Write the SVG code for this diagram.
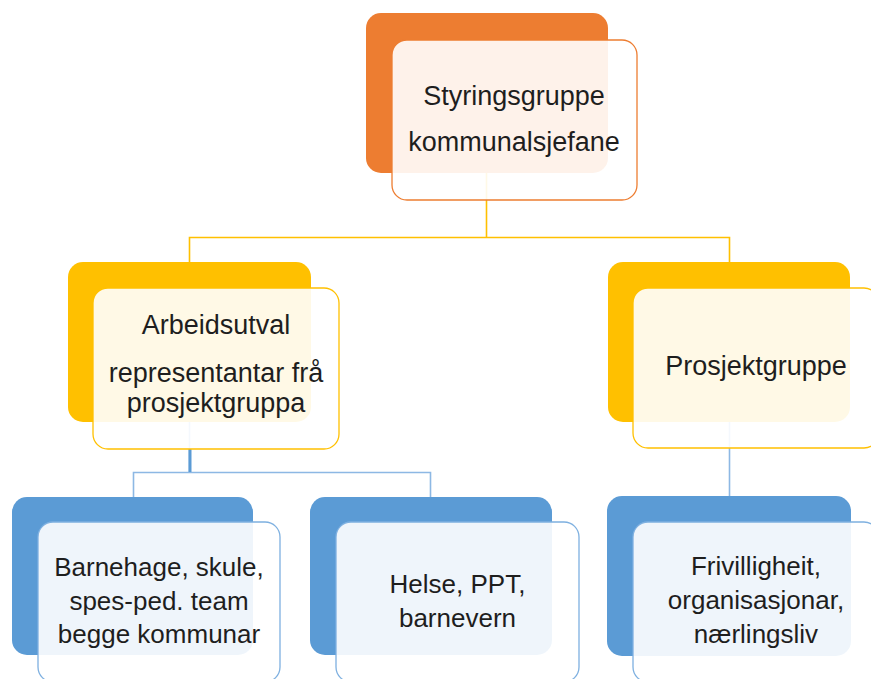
<svg xmlns="http://www.w3.org/2000/svg" width="871" height="679" viewBox="0 0 871 679">
  <style>
    .back { stroke: none; }
    .front { fill: #ffffff; fill-opacity: 0.9; stroke-width: 1.3; }
    .orange .back { fill: #ED7D31; }
    .orange .front { stroke: #ED7D31; }
    .gold .back { fill: #FFC000; }
    .gold .front { stroke: #FFC000; }
    .blue .back { fill: #5B9BD5; }
    .blue .front { stroke: #7EB0E0; }
    .label { font-family: "Liberation Sans", Arial, sans-serif; font-size: 27px; fill: #1e1e1e; text-anchor: middle; }
    .small { font-size: 26px; }
    .link-gold { fill: none; stroke: #FFC000; stroke-width: 1.6; }
    .link-blue { fill: none; stroke: #8DB8E4; stroke-width: 1.6; }
    .link-blue-strong { fill: none; stroke: #5B9BD5; stroke-width: 3; }
  </style>

  <rect width="871" height="679" fill="#ffffff"/>

  <!-- connectors sit beneath the node cards -->
  <g id="connectors">
    <path class="link-gold" d="M486.5 173 V237.5 H189.5 V262 M486.5 237.5 H729.5 V262"/>
    <path class="link-blue" d="M189.5 422 V472.5 M133.5 497 V472.5 H430.5 V497"/>
    <path class="link-blue-strong" d="M190 449 V472"/>
    <path class="link-blue" d="M729.5 422 V496" stroke-width="1.8"/>
  </g>

  <g id="styringsgruppe" class="orange">
    <rect class="back" x="366" y="13" width="242" height="160" rx="15"/>
    <rect class="front" x="392" y="40" width="245" height="160" rx="15"/>
    <text class="label" x="514" y="105">Styringsgruppe</text>
    <text class="label" x="514" y="151">kommunalsjefane</text>
  </g>

  <g id="arbeidsutval" class="gold">
    <rect class="back" x="68" y="262" width="243" height="160" rx="15"/>
    <rect class="front" x="93" y="288" width="246" height="161" rx="15"/>
    <text class="label" x="216" y="334">Arbeidsutval</text>
    <text class="label" x="216" y="382">representantar frå</text>
    <text class="label" x="216" y="412">prosjektgruppa</text>
  </g>

  <g id="prosjektgruppe" class="gold">
    <rect class="back" x="608" y="262" width="242" height="160" rx="15"/>
    <rect class="front" x="633" y="288" width="246" height="160" rx="15"/>
    <text class="label" x="756" y="375">Prosjektgruppe</text>
  </g>

  <g id="barnehage" class="blue">
    <rect class="back" x="12" y="497" width="241" height="158" rx="15"/>
    <rect class="front" x="38" y="522" width="242" height="160" rx="15"/>
    <text class="label small" x="159" y="576">Barnehage, skule,</text>
    <text class="label small" x="159" y="610">spes-ped. team</text>
    <text class="label small" x="159" y="643">begge kommunar</text>
  </g>

  <g id="helse" class="blue">
    <rect class="back" x="310" y="497" width="242" height="158" rx="15"/>
    <rect class="front" x="336" y="522" width="243" height="160" rx="15"/>
    <text class="label small" x="457.5" y="593">Helse, PPT,</text>
    <text class="label small" x="457.5" y="627">barnevern</text>
  </g>

  <g id="frivilligheit" class="blue">
    <rect class="back" x="607" y="496" width="244" height="160" rx="15"/>
    <rect class="front" x="633" y="522" width="246" height="160" rx="15"/>
    <text class="label small" x="756" y="575">Frivilligheit,</text>
    <text class="label small" x="756" y="609">organisasjonar,</text>
    <text class="label small" x="756" y="643">nærlingsliv</text>
  </g>
</svg>
